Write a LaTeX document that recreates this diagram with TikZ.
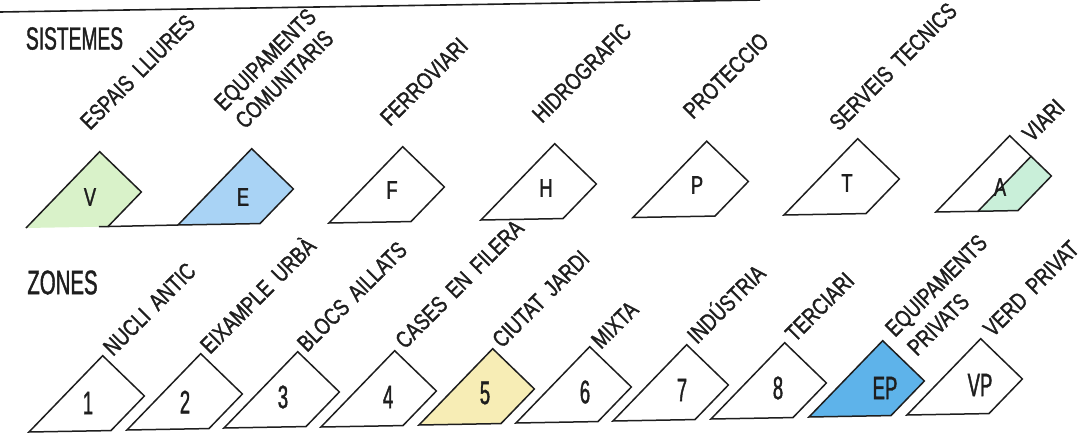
\documentclass[tikz,border=0pt]{standalone}
\usepackage{fontspec}
\setmainfont{Liberation Sans}
\newfontfamily\headfont{Liberation Sans}[FakeStretch=0.6,FakeBold=1.2]
\newfontfamily\labfont{Liberation Sans}[FakeStretch=0.78,FakeBold=1.4]
\newfontfamily\tagfont{Liberation Sans}[FakeStretch=0.57,FakeBold=1.2]
\newfontfamily\sysfont{Liberation Sans}[FakeStretch=0.72,FakeBold=1.2]
\newcommand\labstyle{\labfont\fontsize{23.5}{27}\selectfont\spaceskip=9pt\relax}
\definecolor{ink}{HTML}{1E1E1E}
\definecolor{vgreen}{HTML}{D9F2C9}
\definecolor{eblue}{HTML}{A9D3F5}
\definecolor{agreen}{HTML}{C9EFD9}
\definecolor{zyellow}{HTML}{F7EDB5}
\definecolor{epblue}{HTML}{5EB3EA}
\newcommand\mytile[3]{%
  \begin{scope}[shift={#2},rotate=1]
    \coordinate (#1-bl) at (0,0);
    \coordinate (#1-ap) at (75,-75);
    \coordinate (#1-rt) at (116,-34);
    \coordinate (#1-br) at (82,0);
    \coordinate (#1-bx) at (73,0);
    \coordinate (#1-m1) at (42,0);
    \coordinate (#1-m2) at (96,-54);
    \fill[#3] (#1-bl) -- (#1-ap) -- (#1-rt) -- (#1-br) -- cycle;
  \end{scope}}
\newcommand\myoutline[1]{%
  \draw[tileline] (#1-bl) -- (#1-ap) -- (#1-rt) -- (#1-br) -- cycle;}
\begin{document}
\begin{tikzpicture}[x=1pt,y=-1pt,
  tileline/.style={draw=ink, line width=1.5pt, line join=miter},
  rlab/.style={anchor=base west, rotate=45, inner sep=0pt, text=ink,
    font=\labstyle},
  head/.style={inner sep=0pt, text=ink, font=\headfont\fontsize{32}{36}\selectfont},
  sysid/.style={inner sep=0pt, text=ink, font=\sysfont\fontsize{25.5}{28}\selectfont},
  zoneid/.style={inner sep=0pt, text=ink, font=\tagfont\fontsize{32.5}{35}\selectfont}]
\useasboundingbox (0,0) rectangle (1080,439);
\clip (0,0) rectangle (1080,439);

% top rule
\coordinate (ruleL) at (0,12);
\coordinate (ruleR) at (760,0);
\draw[ink, line width=1.6pt] (ruleL) -- (ruleR);

% headings
\node[head] (hsis) at (74.5,38.5) {SISTEMES};
\node[head, font=\headfont\fontsize{34}{38}\selectfont] (hzon) at (62.5,282.5) {ZONES};

% ---------- SISTEMES tiles ----------
\mytile{V}{(26,228)}{vgreen}
\mytile{E}{(178,225)}{eblue}
\mytile{F}{(329,223)}{white}
\mytile{H}{(481,220)}{white}
\mytile{P}{(633,217.5)}{white}
\mytile{T}{(784,215)}{white}
\mytile{A}{(936,212)}{white}
\fill[agreen] (A-m1) -- (A-m2) -- (A-rt) -- (A-br) -- cycle;

\draw[tileline] (V-bl) -- (V-ap) -- (V-rt) -- (V-br);
\draw[tileline] (V-bx) -- (E-bl);
\myoutline{E}
\myoutline{F}
\myoutline{H}
\myoutline{P}
\myoutline{T}
\myoutline{A}
\draw[tileline] (A-m1) -- (A-m2);

\node[sysid] (lV) at (90,197) {V};
\node[sysid] (lE) at (243,197) {E};
\node[sysid] (lF) at (392,190) {F};
\node[sysid] (lH) at (546,188) {H};
\node[sysid] (lP) at (697,185) {P};
\node[sysid] (lT) at (847,183) {T};
\node[sysid] (lA) at (1000,187) {A};

\node[rlab] (tV) at (90,131) {ESPAIS LLIURES};
\node[rlab] (tE1) at (224,112) {EQUIPAMENTS};
\node[rlab] (tE2) at (245,130) {COMUNITARIS};
\node[rlab] (tF) at (390,127) {FERROVIARI};
\node[rlab] (tH) at (542,124) {HIDROGRAFIC};
\node[rlab] (tP) at (693,120) {PROTECCIO};
\node[rlab] (tT) at (839,132) {SERVEIS TECNICS};
\node[rlab] (tA) at (1032,143) {VIARI};

% ---------- ZONES tiles ----------
\mytile{Z1}{(29,432)}{white}
\mytile{Z2}{(127,430)}{white}
\mytile{Z3}{(224,428)}{white}
\mytile{Z4}{(321,427)}{white}
\mytile{Z5}{(419,425)}{zyellow}
\mytile{Z6}{(516,423)}{white}
\mytile{Z7}{(613,421)}{white}
\mytile{Z8}{(711,419)}{white}
\mytile{ZEP}{(809,417)}{epblue}
\mytile{ZVP}{(907,415)}{white}
\myoutline{Z1}
\myoutline{Z2}
\myoutline{Z3}
\myoutline{Z4}
\myoutline{Z5}
\myoutline{Z6}
\myoutline{Z7}
\myoutline{Z8}
\myoutline{ZEP}
\myoutline{ZVP}

\node[zoneid] (l1) at (88,403) {1};
\node[zoneid] (l2) at (185,402) {2};
\node[zoneid] (l3) at (283,397) {3};
\node[zoneid] (l4) at (388,397) {4};
\node[zoneid] (l5) at (485,393) {5};
\node[zoneid] (l6) at (585,392) {6};
\node[zoneid] (l7) at (682,390) {7};
\node[zoneid] (l8) at (778,388) {8};
\node[zoneid] (lEP) at (885,388) {EP};
\node[zoneid] (lVP) at (980,385) {VP};

\node[rlab] (t1) at (113,357) {NUCLI ANTIC};
\node[rlab] (t2) at (210,355) {EIXAMPLE URBÀ};
\node[rlab] (t3) at (307,353) {BLOCS AILLATS};
\node[rlab] (t4) at (405,350) {CASES EN FILERA};
\node[rlab] (t5) at (502,349) {CIUTAT JARDI};
\node[rlab] (t6) at (601,350) {MIXTA};
\node[rlab] (t7) at (697,345) {INDÚSTRIA};
\node[rlab] (t8) at (795,343) {TERCIARI};
\node[rlab] (tEP1) at (895,338) {EQUIPAMENTS};
\node[rlab] (tEP2) at (917,357) {PRIVATS};
\node[rlab] (tVP) at (993,338) {VERD PRIVAT};
\end{tikzpicture}
\end{document}
